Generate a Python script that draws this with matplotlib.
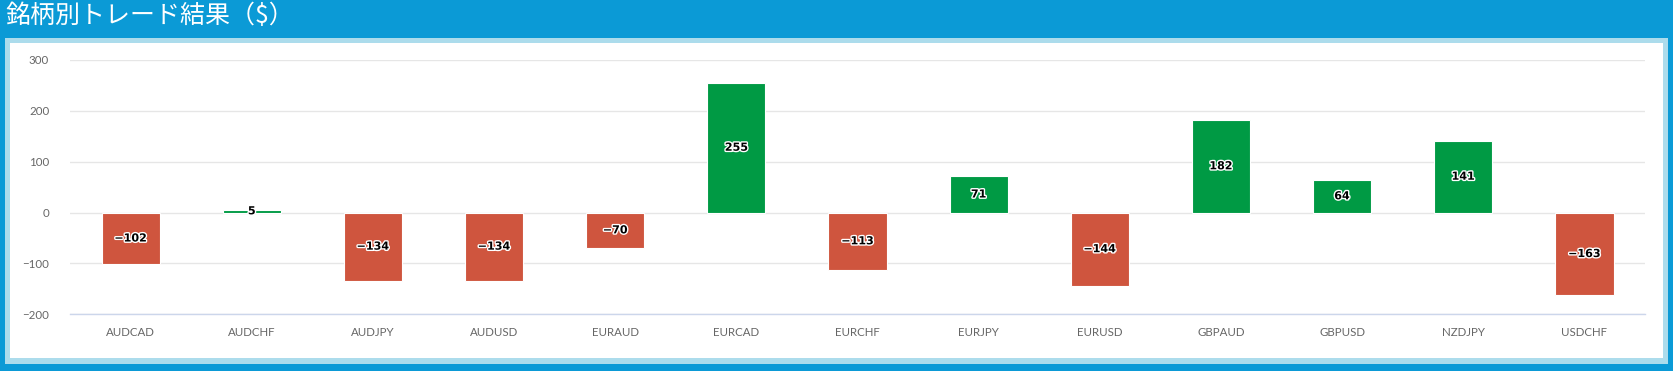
import matplotlib
matplotlib.use("Agg")
import matplotlib.pyplot as plt
import matplotlib.patheffects as pe
from matplotlib.patches import Rectangle

symbols = ["AUDCAD", "AUDCHF", "AUDJPY", "AUDUSD", "EURAUD", "EURCAD", "EURCHF",
           "EURJPY", "EURUSD", "GBPAUD", "GBPUSD", "NZDJPY", "USDCHF"]
results = [-102, 5, -134, -134, -70, 255, -113, 71, -144, 182, 64, 141, -163]
yticks = [-200, -100, 0, 100, 200, 300]
title = "銘柄別トレード結果（$）"

W, H = 1673, 371
fig = plt.figure(figsize=(W / 100, H / 100), dpi=100)
fig.patch.set_facecolor("#0B9AD6")

def frac_rect(x0, y0, x1, y1, color):
    fig.patches.append(Rectangle((x0 / W, 1 - y1 / H), (x1 - x0) / W, (y1 - y0) / H,
                                 transform=fig.transFigure, facecolor=color,
                                 edgecolor="none", zorder=-10))

frac_rect(5, 38, 1668, 364, "#ACDCEC")
frac_rect(10, 43, 1663, 358, "#FFFFFF")

fig.text(5 / W, 1 - 16 / H, title, color="white", fontsize=18, va="center", ha="left",
         family=["Noto Sans CJK JP", "DejaVu Sans"])

ax = fig.add_axes([70 / W, 1 - 314.3 / H, 1575 / W, (314.3 - 60) / H])
ax.set_facecolor("white")
colors = ["#009A44" if v >= 0 else "#CF553E" for v in results]
x = list(range(len(symbols)))
bars = ax.bar(x, results, width=0.48, color=colors, zorder=3,
              edgecolor="white", linewidth=0.8)
ax.set_xlim(-0.5, len(symbols) - 0.5)
ax.set_ylim(-200, 300)
ax.set_yticks(yticks)
ax.set_yticklabels([str(t).replace("-", "\u2212") for t in yticks])
ax.set_xticks(x)
ax.set_xticklabels(symbols)
ax.grid(axis="y", color="#E6E6E6", linewidth=1, zorder=0)
for s in ["top", "right", "left"]:
    ax.spines[s].set_visible(False)
ax.spines["bottom"].set_color("#CCD6EB")
ax.spines["bottom"].set_linewidth(1)
ax.tick_params(axis="both", length=0, colors="#666666", labelsize=8.3)
ax.tick_params(axis="x", pad=9)
ax.tick_params(axis="y", pad=15)
for lab in ax.get_xticklabels() + ax.get_yticklabels():
    lab.set_family(["Lato", "DejaVu Sans"])

for xi, v in zip(x, results):
    txt = str(v).replace("-", "\u2212")
    ax.text(xi, v / 2, txt, ha="center", va="center", fontsize=8, fontweight="bold",
            color="black", zorder=5, family=["DejaVu Sans"],
            path_effects=[pe.withStroke(linewidth=2, foreground="white")])

fig.savefig("out.png", dpi=100, facecolor=fig.get_facecolor())
